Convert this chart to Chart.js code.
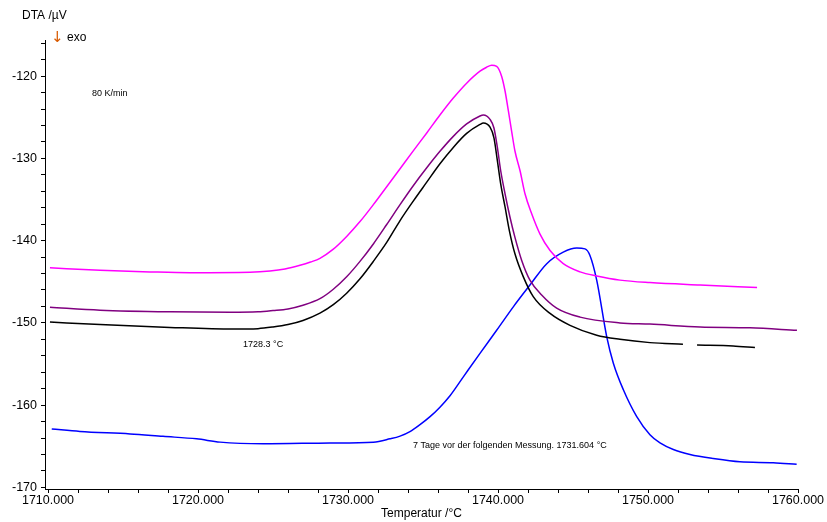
<!DOCTYPE html>
<html>
<head>
<meta charset="utf-8">
<script src="https://cdn.jsdelivr.net/npm/chart.js@4"></script>
<style>
    html, body { margin: 0; padding: 0; background: #fff; }
    #wrap { position: relative; width: 827px; height: 522px; }
</style>
</head>
<body>
<div id="wrap"><canvas id="dta"></canvas></div>
<script>
// Temperature (°C) and DTA signal (µV), one pair of arrays per run
const magentaTemp = [1710.13, 1713.47, 1716.8, 1719.47, 1723.47, 1724.8, 1725.8, 1726.8, 1727.5, 1728.13,
    1729.0, 1729.91, 1730.8, 1731.69, 1732.58, 1733.47, 1734.35, 1735.25, 1736.13, 1737.02,
    1737.91, 1738.8, 1739.24, 1739.58, 1739.91, 1740.24, 1740.47, 1740.69, 1740.91, 1741.13,
    1741.47, 1741.8, 1742.24, 1742.8, 1743.47, 1744.35, 1745.47, 1746.58, 1748.13, 1750.13,
    1753.47, 1757.27];
const magentaDta = [-143.3, -143.6, -143.8, -143.9, -143.85, -143.7, -143.45, -143.0, -142.6, -142.15,
    -141.07, -139.49, -137.68, -135.62, -133.44, -131.26, -129.08, -126.9, -124.72, -122.66,
    -120.85, -119.39, -118.91, -118.67, -118.8, -120.0, -121.8, -124.2, -126.7, -129.1,
    -131.5, -134.3, -136.7, -139.2, -141.2, -142.8, -143.8, -144.3, -144.8, -145.1,
    -145.4, -145.7];

const purpleTemp = [1710.13, 1713.47, 1718.13, 1722.13, 1724.0, 1725.0, 1726.0, 1727.0, 1728.13, 1729.02,
    1729.91, 1730.8, 1731.69, 1732.58, 1733.47, 1734.35, 1735.25, 1736.13, 1737.02, 1737.91,
    1738.8, 1739.02, 1739.47, 1739.73, 1739.96, 1740.18, 1740.47, 1740.8, 1741.13, 1741.58,
    1742.13, 1742.91, 1743.91, 1745.47, 1748.13, 1750.13, 1753.47, 1756.8, 1759.93];
const purpleDta = [-148.1, -148.45, -148.65, -148.7, -148.65, -148.5, -148.3, -147.85, -147.06, -145.91,
    -144.39, -142.52, -140.4, -138.04, -135.62, -133.32, -131.14, -129.14, -127.32, -125.81,
    -124.84, -124.72, -125.25, -126.3, -128.7, -131.5, -134.3, -137.15, -139.6, -142.4,
    -144.8, -146.6, -148.2, -149.3, -150.0, -150.15, -150.5, -150.6, -150.9];

// black run has a short dropout near 1753 °C (null)
const blackTemp = [1710.13, 1713.47, 1718.13, 1722.33, 1724.0, 1725.0, 1726.0, 1727.0, 1728.13, 1729.02,
    1729.91, 1730.8, 1731.69, 1732.58, 1733.47, 1734.35, 1735.25, 1736.13, 1737.02, 1737.91,
    1738.8, 1739.02, 1739.47, 1739.73, 1739.96, 1740.18, 1740.47, 1740.76, 1741.13, 1741.69,
    1742.35, 1743.47, 1744.8, 1746.58, 1748.13, 1750.13, 1752.33, 1752.8, 1753.27, 1755.67,
    1757.13];
const blackDta = [-149.9, -150.2, -150.55, -150.75, -150.7, -150.5, -150.2, -149.7, -148.81, -147.78,
    -146.39, -144.64, -142.52, -140.22, -137.56, -135.19, -132.89, -130.65, -128.66, -126.96,
    -125.87, -125.69, -126.2, -127.5, -130.3, -133.1, -135.9, -138.8, -141.6, -144.4,
    -146.8, -148.85, -150.3, -151.5, -152.0, -152.4, -152.6, null, -152.7, -152.8,
    -153.0];

const blueTemp = [1710.25, 1712.13, 1715.47, 1717.67, 1719.91, 1721.47, 1724.35, 1728.8, 1731.69, 1732.8,
    1733.47, 1734.13, 1734.8, 1735.47, 1736.13, 1736.8, 1737.69, 1738.8, 1739.91, 1741.02,
    1742.13, 1743.25, 1744.35, 1745.25, 1745.8, 1746.13, 1746.58, 1747.25, 1747.69, 1748.35,
    1749.25, 1750.13, 1750.8, 1751.69, 1752.8, 1754.35, 1756.13, 1758.35, 1759.91];
const blueDta = [-162.9, -163.2, -163.5, -163.8, -164.1, -164.5, -164.7, -164.6, -164.5, -164.1,
    -163.77, -163.22, -162.37, -161.4, -160.25, -158.86, -156.56, -153.7, -150.9, -148.05,
    -145.4, -142.8, -141.4, -140.9, -141.0, -141.8, -144.8, -151.7, -154.9, -158.1,
    -161.4, -163.6, -164.6, -165.4, -166.0, -166.5, -166.9, -167.0, -167.2];

// axis ranges and tick steps
const tempRange = [1709.8, 1760.0];
const dtaRange = [-170.2, -115.6];
const minorStep = 2;
const majorStep = 10;

// free text on the plot
const annotations = [
    { text: '80 K/min', x: 92, y: 94 },
    { text: '1728.3 °C', x: 243, y: 345 },
    { text: '7 Tage vor der folgenden Messung. 1731.604 °C', x: 413, y: 446 }
];

const FONT = "'Liberation Sans', Arial, sans-serif";

function toPoints(temps, values) {
    return temps.map((t, i) => ({ x: t, y: values[i] }));
}

function curve(temps, values, color) {
    return {
        data: toPoints(temps, values),
        borderColor: color,
        borderWidth: 1.5,
        pointRadius: 0,
        fill: false,
        spanGaps: false,
        cubicInterpolationMode: 'monotone'
    };
}

const isMajor = v => Math.abs(v / majorStep - Math.round(v / majorStep)) < 1e-6;

// header texts and annotations drawn onto the canvas
const textPlugin = {
    id: 'dtaTexts',
    afterDraw(chart) {
        const ctx = chart.ctx;
        ctx.save();
        ctx.textBaseline = 'middle';
        ctx.textAlign = 'left';
        ctx.fillStyle = '#000';
        ctx.font = '12px ' + FONT;
        ctx.fillText('DTA /µV', 22, 16);
        ctx.fillText('exo', 67, 38);
        // downward arrow marks the exothermic direction
        ctx.fillStyle = '#d85a00';
        ctx.font = "15px 'DejaVu Sans', sans-serif";
        ctx.fillText('↓', 51, 38);
        ctx.fillStyle = '#000';
        ctx.font = '9px ' + FONT;
        annotations.forEach(a => ctx.fillText(a.text, a.x, a.y));
        ctx.restore();
    }
};

const axisLine = { color: '#000', width: 1 };
const tickGrid = { drawOnChartArea: false, drawTicks: true, tickLength: 4, color: '#000' };

new Chart(document.getElementById('dta').getContext('2d'), {
    type: 'line',
    data: {
        datasets: [
            curve(magentaTemp, magentaDta, '#ff00ff'),
            curve(purpleTemp, purpleDta, '#800080'),
            curve(blackTemp, blackDta, '#000000'),
            curve(blueTemp, blueDta, '#0000ff')
        ]
    },
    options: {
        responsive: true,
        maintainAspectRatio: false,
        animation: false,
        events: [],
        layout: { padding: { top: 40, right: 29, left: 0, bottom: 0 } },
        plugins: {
            legend: { display: false },
            tooltip: { enabled: false }
        },
        scales: {
            x: {
                type: 'linear',
                min: tempRange[0],
                max: tempRange[1],
                border: axisLine,
                grid: tickGrid,
                afterFit(scale) {
                    scale.height = 33;
                    scale.paddingLeft = 0;
                    scale.paddingRight = 0;
                },
                ticks: {
                    stepSize: minorStep,
                    includeBounds: false,
                    autoSkip: false,
                    maxRotation: 0,
                    padding: 0,
                    color: '#000',
                    font: { family: FONT, size: 12.5 },
                    callback: v => isMajor(v) ? v.toFixed(3) : ''
                },
                title: {
                    display: true,
                    text: 'Temperatur /°C',
                    color: '#000',
                    font: { family: FONT, size: 12 },
                    padding: { top: 0, bottom: 1 }
                }
            },
            y: {
                type: 'linear',
                min: dtaRange[0],
                max: dtaRange[1],
                border: axisLine,
                grid: tickGrid,
                afterFit(scale) {
                    scale.width = 45;
                    scale.paddingTop = 0;
                    scale.paddingBottom = 0;
                },
                ticks: {
                    stepSize: minorStep,
                    includeBounds: false,
                    autoSkip: false,
                    padding: 4,
                    color: '#000',
                    font: { family: FONT, size: 12.5 },
                    callback: v => isMajor(v) ? String(Math.round(v)) : ''
                }
            }
        }
    },
    plugins: [textPlugin]
});
</script>
</body>
</html>
